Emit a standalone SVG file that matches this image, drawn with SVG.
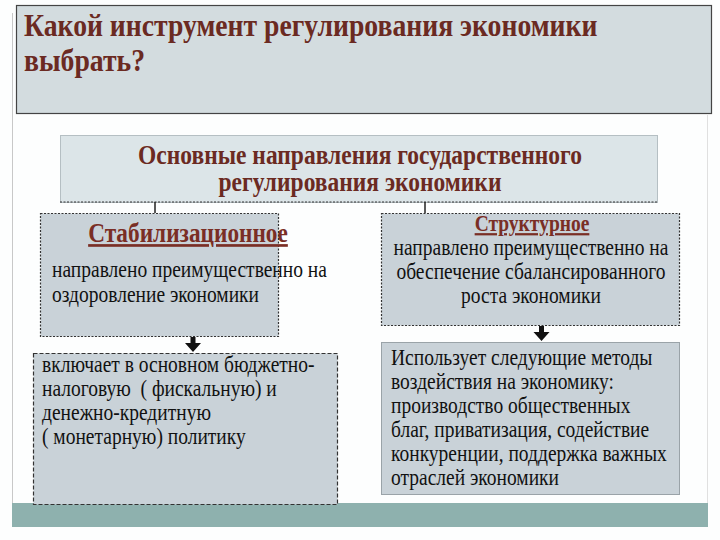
<svg xmlns="http://www.w3.org/2000/svg" width="720" height="540" viewBox="0 0 720 540">
<style>
.title{font-family:"Liberation Serif",serif;font-weight:bold;font-size:27.7px;fill:#6b2a22}
.head{font-family:"Liberation Serif",serif;font-weight:bold;font-size:23.5px;fill:#6b2a22}
.sub{font-family:"Liberation Serif",serif;font-weight:bold;fill:#7a2e25;text-decoration:underline}
.t{font-family:"Liberation Serif",serif;font-size:19.5px;fill:#111;white-space:pre}
.box{fill:#c9d2d8}
.dot{stroke:#333;stroke-width:1.2;stroke-dasharray:2 1.5}
.conn{stroke:#222;stroke-width:1.5;fill:none}
</style>
<defs>
<path id="arrow" d="M-2.5,0 H2.5 V6 H8 L0,15 L-8,6 H-2.5 Z" fill="#111"/>
</defs>
<rect width="720" height="540" fill="#fdfefe"/>
<line x1="12.5" y1="13" x2="12.5" y2="505" stroke="#c8c8c8" stroke-width="1"/>
<line x1="707.5" y1="115" x2="707.5" y2="505" stroke="#e0e0e0" stroke-width="1"/>
<rect x="12" y="503" width="696" height="24" fill="#8eb1ae"/>

<g id="title">
<rect x="16.5" y="5.5" width="695" height="108" fill="#d3dcdf" stroke="#444" stroke-width="1.2"/>
<g transform="scale(1,1.15)">
<text class="title" x="24" y="31.3">Какой инструмент регулирования экономики</text>
<text class="title" x="24" y="61.74">выбрать?</text>
</g>
</g>

<g id="header">
<rect x="60.5" y="135.5" width="597" height="67" fill="#dce5e8" stroke="#b5bfc3" stroke-width="1"/>
<line x1="60" y1="202" x2="658" y2="202" class="dot"/>
<g transform="scale(1,1.15)">
<text class="head" x="360" y="142.61" text-anchor="middle">Основные направления государственного</text>
<text class="head" x="360" y="166.09" text-anchor="middle">регулирования экономики</text>
</g>
</g>

<g id="connectors">
<line class="conn" x1="155" y1="202" x2="155" y2="213"/>
<line class="conn" x1="425" y1="202" x2="425" y2="213"/>
<use href="#arrow" transform="translate(193,337)"/>
<use href="#arrow" transform="translate(541.5,326)"/>
</g>

<g id="stab">
<rect x="40.5" y="213.5" width="238" height="123" class="box dot"/>
<g transform="scale(1,1.15)">
<text class="sub" x="188" y="210.43" font-size="23.3" text-anchor="middle">Стабилизационное</text>
<text class="t" x="52" y="240.87">направлено преимущественно на</text>
<text class="t" x="52" y="262.61">оздоровление экономики</text>
</g>
</g>

<g id="struct">
<rect x="381.5" y="213.5" width="298" height="112" class="box dot"/>
<g transform="scale(1,1.15)">
<text class="sub" x="532" y="200.87" font-size="19.5" text-anchor="middle">Структурное</text>
<text class="t" x="531" y="221.74" text-anchor="middle">направлено преимущественно на</text>
<text class="t" x="531" y="242.61" text-anchor="middle">обеспечение сбалансированного</text>
<text class="t" x="531" y="263.48" text-anchor="middle">роста экономики</text>
</g>
</g>

<g id="fiscal">
<rect x="33.5" y="353.5" width="304" height="151" class="box" stroke="#333" stroke-width="1.2" stroke-dasharray="4 2"/>
<g transform="scale(1,1.15)">
<text class="t" x="42" y="323.48">включает в основном бюджетно-</text>
<text class="t" x="42" y="344.35">налоговую  ( фискальную) и</text>
<text class="t" x="42" y="365.22">денежно-кредитную</text>
<text class="t" x="42" y="386.09">( монетарную) политику</text>
</g>
</g>

<g id="methods">
<rect x="381.5" y="342.5" width="298" height="152" class="box" stroke="#9aa3a8" stroke-width="1"/>
<g transform="scale(1,1.15)">
<text class="t" x="391" y="317.39">Использует следующие методы</text>
<text class="t" x="391" y="338.26">воздействия на экономику:</text>
<text class="t" x="391" y="359.13">производство общественных</text>
<text class="t" x="391" y="380">благ, приватизация, содействие</text>
<text class="t" x="391" y="400.87">конкуренции, поддержка важных</text>
<text class="t" x="391" y="421.74">отраслей экономики</text>
</g>
</g>
</svg>
